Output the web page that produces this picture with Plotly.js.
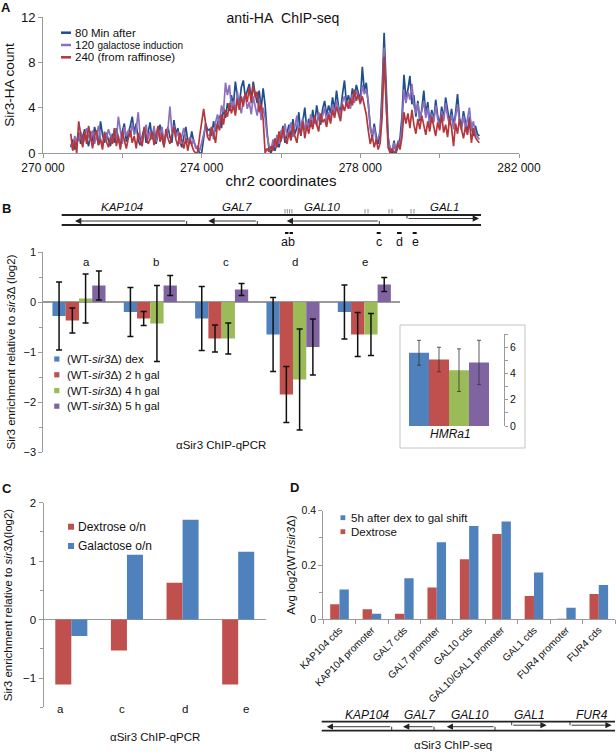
<!DOCTYPE html>
<html><head><meta charset="utf-8">
<script src="https://cdn.plot.ly/plotly-3.0.1.min.js"></script>
<style>html,body{margin:0;padding:0;background:#fff}#chart{width:616px;height:754px}</style>
</head><body><div id="chart"></div>
<script>
// ---------- Panel A: anti-HA ChIP-seq ----------
const chipStart = 270700;   // first bin (chr2 coordinate)
const chipStep = 50;        // bin spacing
const chipSeriesNames = ['80 Min after', '120 galactose induction', '240 (from raffinose)'];
const chipTickVals = [270000, 274000, 278000, 282000];
const chipTickText = ['270 000', '274 000', '278 000', '282 000'];
const sir3HA80 = [
 0.5,1.2,0.3,1.0,1.8,0.8,1.5,2.1,1.2,0.6, 1.9,1.0,2.3,1.4,0.7,2.8,1.6,0.9,1.8,1.1,
 0.6,1.7,0.9,2.2,1.3,0.5,1.9,2.6,1.0,1.6, 2.4,3.2,1.8,2.6,1.1,0.7,1.5,2.2,0.9,1.7,
 2.7,1.2,2.0,0.8,1.6,2.5,1.3,0.6,1.8,2.3, 1.4,0.9,2.9,1.7,2.2,1.0,0.5,1.6,2.3,1.1,
 0.8,1.9,1.0,0.6,0.3,0.0,0.0,1.6,2.6,2.0, 2.1,1.5,2.8,1.9,2.5,3.3,2.2,4.0,3.1,4.4,
 3.7,5.1,4.2,6.3,5.0,4.3,5.8,6.4,4.9,5.6, 6.1,4.7,6.3,5.2,4.4,5.5,3.9,5.7,4.2,1.8,
 0.3,0.0,0.7,0.2,1.1,0.5,1.6,2.4,0.9,1.8, 2.5,1.2,3.0,1.7,2.2,3.6,1.5,2.8,4.0,2.1,
 3.0,2.3,3.8,2.6,4.2,3.1,2.5,3.9,4.6,3.3, 4.2,3.5,4.9,3.8,5.5,4.1,3.6,5.2,6.4,4.4,
 5.1,4.3,5.7,4.9,6.0,5.3,4.6,7.6,5.5,6.2, 4.0,2.4,1.3,2.6,1.5,0.8,2.0,5.6,10.6,5.0,
 1.5,0.2,0.0,1.1,0.0,0.6,1.3,3.2,6.9,4.8, 5.6,6.8,4.3,5.1,3.2,4.6,2.8,3.9,5.5,3.4,
 4.5,2.6,3.8,2.9,4.7,3.3,2.5,4.1,3.0,4.9, 3.6,2.7,3.9,2.4,3.5,5.2,3.1,2.3,3.7,2.6,
 1.8,3.2,2.2,1.5,2.4,1.7,1.5];
const sir3HA120 = [
 0.8,0.4,1.5,0.9,1.2,1.9,0.7,1.3,2.2,1.4, 1.1,2.0,0.8,1.6,2.4,1.2,0.6,1.9,1.3,2.1,
 1.5,0.9,2.0,1.2,3.2,1.8,0.8,2.3,1.5,2.0, 1.4,2.6,1.6,2.1,3.6,1.5,0.9,1.8,2.5,1.2,
 1.9,1.3,2.4,1.0,2.0,1.5,2.3,0.9,1.6,2.1, 4.1,1.8,2.4,1.4,1.9,0.8,1.5,2.2,1.3,0.9,
 1.4,0.7,1.2,0.4,0.6,0.2,0.9,1.8,2.4,1.5, 1.6,2.3,1.2,2.7,3.4,2.5,4.2,3.6,6.2,5.1,
 6.0,4.0,4.6,3.7,5.4,4.2,3.5,4.8,5.2,3.9, 4.5,3.4,5.0,4.1,3.3,4.8,2.9,4.0,3.1,1.5,
 0.6,0.3,1.2,0.5,1.6,0.8,2.0,1.3,2.6,1.5, 1.9,2.7,1.4,2.3,3.3,1.8,2.5,3.1,2.0,2.8,
 2.2,3.4,2.6,3.0,2.4,3.6,2.9,3.3,4.0,2.7, 3.6,3.0,4.3,3.4,4.6,3.8,3.2,4.5,5.0,4.1,
 4.6,3.9,5.2,4.4,5.5,5.0,4.3,6.0,5.2,5.6, 4.6,2.1,1.6,2.3,1.1,1.3,1.8,4.4,9.3,4.4,
 1.1,0.5,0.2,0.9,0.1,1.1,0.6,2.4,5.6,4.4, 5.4,4.7,6.1,4.2,3.5,4.4,3.0,3.7,4.6,3.1,
 4.0,2.4,3.5,2.7,4.2,3.0,2.2,3.7,2.8,4.4, 3.2,2.5,3.4,2.1,3.1,4.3,2.7,2.0,3.3,2.2,
 3.0,4.0,2.1,2.8,1.7,1.4,1.2];
const sir3HA240 = [
 1.7,0.2,1.1,0.0,2.8,1.4,0.5,1.9,0.8,2.4, 1.3,0.4,1.6,2.0,0.7,1.2,0.3,1.8,1.0,0.5,
 1.4,0.8,2.2,0.6,1.5,0.3,1.9,1.1,0.4,1.3, 2.0,0.9,1.5,0.4,1.8,1.1,0.6,2.3,1.4,0.8,
 1.2,1.9,0.7,1.5,2.4,1.0,1.7,0.5,2.1,1.3, 0.8,1.6,2.3,1.2,0.6,1.8,1.1,0.4,1.3,0.2,
 1.2,0.6,0.2,0.0,0.1,1.5,2.8,3.9,2.6,1.4, 1.1,2.3,1.7,0.9,2.6,2.0,3.4,2.5,3.8,3.2,
 4.4,3.5,4.2,3.3,4.8,3.8,5.0,4.1,5.3,4.5, 5.8,4.4,6.0,4.9,5.4,3.6,4.3,3.0,0.0,0.4,
 0.1,0.6,0.2,1.3,0.5,1.9,1.0,2.2,1.4,0.8, 1.8,1.1,2.5,1.5,0.9,2.2,1.6,2.8,1.3,2.4,
 1.7,2.9,2.1,3.3,2.5,1.9,3.5,2.7,3.0,2.3, 3.4,2.6,3.8,3.1,4.1,3.3,2.8,4.3,3.7,4.5,
 3.9,4.8,4.2,5.6,4.6,5.2,4.4,5.0,4.2,3.4, 2.0,0.8,1.5,0.5,1.2,0.3,0.9,3.2,8.5,3.8,
 0.5,0.0,0.4,0.0,0.2,0.9,0.3,1.4,3.6,2.6, 3.5,2.2,3.8,2.5,1.7,3.0,2.1,3.3,2.4,1.6,
 2.8,1.9,3.2,2.3,1.5,2.7,2.0,3.4,1.8,2.5, 1.4,3.1,2.2,0.6,2.6,1.7,3.0,2.1,1.3,2.3,
 1.6,2.9,0.9,2.2,1.4,1.1,0.9];

// ---------- Panel B: ChIP-qPCR ----------
const qpcrSites = ['a', 'b', 'c', 'd', 'e'];
const seriesNamesB = ['(WT-<i>sir3</i>Δ) dex', '(WT-<i>sir3</i>Δ) 2 h gal', '(WT-<i>sir3</i>Δ) 4 h gal', '(WT-<i>sir3</i>Δ) 5 h gal'];
const dexB    = [-0.28, -0.20, -0.33, -0.65, -0.20];
const gal2hB  = [-0.37, -0.33, -0.73, -1.85, -0.65];
const gal4hB  = [ 0.07, -0.43, -0.73, -1.55, -0.65];
const gal5hB  = [ 0.33,  0.33,  0.25, -0.90,  0.35];
const dexErrB   = [0.68, 0.49, 0.64, 0.74, 0.54];
const gal2hErrB = [0.25, 0.14, 0.27, 0.56, 0.44];
const gal4hErrB = [0.49, 0.76, 0.31, 1.01, 0.42];
const gal5hErrB = [0.29, 0.20, 0.12, 0.56, 0.14];
// inset HMRa1
const hmrConditions = ['dex', '2 h gal', '4 h gal', '5 h gal'];
const hmrValues = [5.57, 5.06, 4.25, 4.83];
const hmrErr = [0.95, 0.93, 1.62, 1.69];
const geneLabelsB = ['KAP104', 'GAL7', 'GAL10', 'GAL1'];
const primerLabelsB = ['ab', 'c', 'd', 'e'];

// ---------- Panel C ----------
const sitesC = ['a', 'c', 'd', 'e'];
const seriesNamesC = ['Dextrose o/n', 'Galactose o/n'];
const dextroseC  = [-1.11, -0.53, 0.63, -1.11];
const galactoseC = [-0.28,  1.11, 1.71,  1.16];

// ---------- Panel D ----------
const regionsD = ['KAP104 cds', 'KAP104 promoter', 'GAL7 cds', 'GAL7 promoter', 'GAL10 cds',
                  'GAL10/GAL1 promoter', 'GAL1 cds', 'FUR4 promoter', 'FUR4 cds'];
const seriesNamesD = ['5h after dex to gal shift', 'Dextrose'];
const shift5hD   = [0.110, 0.020, 0.151, 0.284, 0.344, 0.360, 0.172, 0.043, 0.126];
const dextroseD  = [0.055, 0.037, 0.020, 0.117, 0.221, 0.314, 0.086, 0.002, 0.093];
const geneLabelsD = ['KAP104', 'GAL7', 'GAL10', 'GAL1', 'FUR4'];

// ---------- drawing ----------
const W = 616, H = 754;
const fx = p => p / W;
const fy = p => 1 - p / H;
const FONT = '"Liberation Sans", Arial, Helvetica, sans-serif';
const TXT = '#111';
const axisGrey = '#9a9a9a';
const cBlue = '#4f81bd', cRed = '#c0504d', cGreen = '#9bbb59', cPurple = '#8064a2';
const aBlue = '#1f4e8d', aPurple = '#8d70bc', aRed = '#b3373b';

const chipX = sir3HA80.map((_, i) => chipStart + i * chipStep);
const traces = [];
[[sir3HA80, aBlue], [sir3HA120, aPurple], [sir3HA240, aRed]].forEach(([ys, c], k) => {
  traces.push({type: 'scatter', mode: 'lines', x: chipX, y: ys, name: chipSeriesNames[k],
    line: {color: c, width: 1.7}, xaxis: 'x', yaxis: 'y', showlegend: false});
});

const bSeries = [dexB, gal2hB, gal4hB, gal5hB];
const bErr = [dexErrB, gal2hErrB, gal4hErrB, gal5hErrB];
const bColors = [cBlue, cRed, cGreen, cPurple];
const bw = 0.186;
bSeries.forEach((vals, k) => {
  traces.push({type: 'bar', x: qpcrSites, y: vals, name: seriesNamesB[k],
    marker: {color: bColors[k]}, width: bw, offset: -2 * bw + k * bw,
    error_y: {type: 'data', array: bErr[k], visible: true, color: '#111', thickness: 1.5, width: 3},
    xaxis: 'x2', yaxis: 'y2', showlegend: false});
});
traces.push({type: 'bar', x: hmrConditions, y: hmrValues, name: 'HMRa1',
  marker: {color: bColors}, width: 1,
  error_y: {type: 'data', array: hmrErr, visible: true, color: '#333', thickness: 0.8, width: 2},
  xaxis: 'x3', yaxis: 'y3', showlegend: false});

const cw = 0.288;
traces.push({type: 'bar', x: sitesC, y: dextroseC, name: seriesNamesC[0], marker: {color: cRed},
  width: cw, offset: -cw, xaxis: 'x4', yaxis: 'y4', showlegend: false});
traces.push({type: 'bar', x: sitesC, y: galactoseC, name: seriesNamesC[1], marker: {color: cBlue},
  width: cw, offset: 0, xaxis: 'x4', yaxis: 'y4', showlegend: false});

const dw = 0.287;
traces.push({type: 'bar', x: regionsD, y: dextroseD, name: seriesNamesD[1], marker: {color: cRed},
  width: dw, offset: -dw, xaxis: 'x5', yaxis: 'y5', showlegend: false});
traces.push({type: 'bar', x: regionsD, y: shift5hD, name: seriesNamesD[0], marker: {color: cBlue},
  width: dw, offset: 0, xaxis: 'x5', yaxis: 'y5', showlegend: false});

// helpers for layout decorations
const ann = (x, y, text, opt = {}) => Object.assign({xref: 'paper', yref: 'paper', x: fx(x), y: fy(y), text,
  showarrow: false, xanchor: 'center', yanchor: 'middle', font: {size: 11, color: TXT}}, opt);
const line = (x0, y0, x1, y1, color = '#222', width = 1) => ({type: 'line', xref: 'paper', yref: 'paper',
  x0: fx(x0), y0: fy(y0), x1: fx(x1), y1: fy(y1), line: {color, width}});
const rect = (x0, y0, x1, y1, fill) => ({type: 'rect', xref: 'paper', yref: 'paper',
  x0: fx(x0), y0: fy(y0), x1: fx(x1), y1: fy(y1), fillcolor: fill, line: {width: 0}});
const arrow = (tail, head, y) => ({xref: 'paper', yref: 'paper', x: fx(head), y: fy(y), ax: tail - head, ay: 0,
  axref: 'pixel', ayref: 'pixel', text: '', showarrow: true, arrowhead: 2, arrowsize: 1.4,
  arrowwidth: 0.9, arrowcolor: '#222', standoff: 0, startstandoff: 0});

const annotations = [];
const shapes = [];

// panel letters
[['A', 6, 8], ['B', 6, 209], ['C', 7, 488], ['D', 294, 487]].forEach(([t, x, y]) =>
  annotations.push(ann(x, y, '<b>' + t + '</b>', {font: {size: 13, color: TXT}})));

// Panel A legend
const aCols = [aBlue, aPurple, aRed];
const aLegText = ['80 Min after', '120 <span style="font-size:10px">galactose induction</span>', '240 (from raffinose)'];
[32.7, 45, 57.3].forEach((y, k) => {
  shapes.push(line(61, y, 71, y, aCols[k], 2.5));
  annotations.push(ann(73, y, aLegText[k], {xanchor: 'left', font: {size: 11.5, color: TXT}}));
});

// Panel B gene map
shapes.push(line(61.7, 215, 481, 215, '#222', 1.8));
shapes.push(line(61.7, 225, 481, 225, '#222', 1.8));
const revGenesB = [[186.7, 75], [257.3, 208.3], [379.3, 286.7]];
revGenesB.forEach(([s, e]) => { shapes.push(line(s, 225, s, 221, '#222', 0.9)); annotations.push(arrow(s, e, 221)); });
shapes.push(line(407, 215, 407, 218.5, '#222', 0.9));
annotations.push(arrow(407, 479, 218.5));
[121.7, 236.7, 321.7, 444].forEach((x, k) =>
  annotations.push(ann(x, 207.5, '<i>' + geneLabelsB[k] + '</i>', {font: {size: 11.5, color: TXT}})));
[285, 287.3, 289.6, 291.9, 365, 368, 389, 392, 411, 414].forEach(x => shapes.push(line(x, 209, x, 213.5, '#444', 0.6)));
[[285, 288.5], [289.5, 293], [376.7, 380.7], [397, 401.7], [412.7, 416.7]].forEach(([a, b]) =>
  shapes.push(line(a, 233, b, 233, '#111', 2)));
[288, 378.5, 399.5, 415].forEach((x, k) => annotations.push(ann(x, 241.5, primerLabelsB[k], {font: {size: 12.5, color: TXT}})));

// Panel B site labels above bars
[8, 6, 4, 2, 1].forEach((s, k) => annotations.push({xref: 'x2', yref: 'paper', x: qpcrSites[k], y: fy(262),
  xshift: s, text: qpcrSites[k], showarrow: false, xanchor: 'center', yanchor: 'middle', font: {size: 11.5, color: TXT}}));
// Panel B legend
[359, 374.8, 390.6, 406.2].forEach((y, k) => {
  shapes.push(rect(54.2, y - 2.6, 59.4, y + 2.6, bColors[k]));
  annotations.push(ann(65, y, seriesNamesB[k], {xanchor: 'left', font: {size: 11.5, color: TXT}}));
});
annotations.push(ann(221, 445, 'αSir3 ChIP-qPCR', {font: {size: 11.5, color: TXT}}));
// inset frame + label
shapes.push({type: 'rect', xref: 'paper', yref: 'paper', x0: fx(400), x1: fx(525), y0: fy(448), y1: fy(325),
  line: {color: '#c4c4c4', width: 1}, fillcolor: 'rgba(0,0,0,0)'});
annotations.push(ann(450, 433.5, '<i>HMRa1</i>', {font: {size: 12, color: TXT}}));

// Panel C legend + labels + caption
[[526.7, cRed], [546, cBlue]].forEach(([y, c], k) => {
  shapes.push(rect(68, y - 3, 74, y + 3, c));
  annotations.push(ann(76, y, seriesNamesC[k], {xanchor: 'left', font: {size: 12, color: TXT}}));
});
[-10.7, -4.6, 2, 8.2].forEach((s, k) => annotations.push({xref: 'x4', yref: 'paper', x: sitesC[k], y: fy(708.5),
  xshift: s, text: sitesC[k], showarrow: false, xanchor: 'center', yanchor: 'middle', font: {size: 11.5, color: TXT}}));
annotations.push(ann(155, 737, 'αSir3 ChIP-qPCR', {font: {size: 11.5, color: TXT}}));

// Panel D legend
[[517.7, cBlue, 0], [531.7, cRed, 1]].forEach(([y, c, k]) => {
  shapes.push(rect(340.5, y - 2.4, 345.3, y + 2.4, c));
  annotations.push(ann(349, y, seriesNamesD[k], {xanchor: 'left', font: {size: 11.5, color: TXT}}));
});
// Panel D gene map
shapes.push(line(321.7, 721.7, 615, 721.7, '#222', 1.8));
shapes.push(line(321.7, 730.7, 615, 730.7, '#222', 1.8));
[[391.7, 326.7], [434, 403], [495, 446.7]].forEach(([s, e]) => { shapes.push(line(s, 730.7, s, 726.7, '#222', 0.9)); annotations.push(arrow(s, e, 726.7)); });
[[511.7, 546.7], [570, 611.7]].forEach(([s, e]) => { shapes.push(line(s, 721.7, s, 725.2, '#222', 0.9)); annotations.push(arrow(s, e, 725.2)); });
[367, 420, 470, 529, 591.7].forEach((x, k) =>
  annotations.push(ann(x, 714.5, '<i>' + geneLabelsD[k] + '</i>', {font: {size: 12, color: TXT}})));
annotations.push(ann(453, 745, 'αSir3 ChIP-seq', {font: {size: 11.5, color: TXT}}));

const baseAxis = {showgrid: false, zeroline: false, showline: true, linecolor: axisGrey, linewidth: 1,
  ticks: 'outside', tickcolor: axisGrey, ticklen: 4, tickfont: {size: 11, color: TXT}};

const layout = {
  width: W, height: H, margin: {l: 0, r: 0, t: 0, b: 0},
  paper_bgcolor: '#fff', plot_bgcolor: 'rgba(0,0,0,0)',
  font: {family: FONT, size: 11, color: TXT}, showlegend: false, barmode: 'group', hovermode: false,
  title: {text: 'anti-HA\u00a0\u00a0ChIP-seq', font: {size: 14, color: TXT}, xref: 'paper', yref: 'paper',
    x: fx(283), y: fy(18), xanchor: 'center', yanchor: 'middle'},
  xaxis: Object.assign({}, baseAxis, {domain: [fx(43), fx(519)], range: [270000, 282000], anchor: 'y',
    tickmode: 'array', tickvals: chipTickVals, ticktext: chipTickText, tickfont: {size: 12, color: TXT},
    minor: {tickmode: 'linear', tick0: 270000, dtick: 2000, ticks: 'outside', ticklen: 4, tickcolor: axisGrey},
    title: {text: 'chr2 coordinates', font: {size: 15, color: TXT}, standoff: 1}}),
  yaxis: Object.assign({}, baseAxis, {domain: [fy(153), fy(17)], range: [0, 12], anchor: 'x',
    tickmode: 'array', tickvals: [0, 4, 8, 12], tickfont: {size: 13, color: TXT},
    title: {text: 'Sir3-HA count', font: {size: 13.5, color: TXT}, standoff: 3}}),
  xaxis2: {domain: [fx(43.3), fx(400)], range: [-0.5, 4.5], type: 'category', anchor: 'y2',
    showline: false, showticklabels: false, ticks: '', showgrid: false, zeroline: false},
  yaxis2: Object.assign({}, baseAxis, {domain: [fy(452), fy(252)], range: [-3, 1], anchor: 'x2',
    tickmode: 'array', tickvals: [-3, -2, -1, 0, 1], zeroline: true, zerolinecolor: axisGrey, zerolinewidth: 1.5,
    minor: {tickmode: 'linear', tick0: 0, dtick: 0.5, ticks: 'outside', ticklen: 3, tickcolor: axisGrey},
    title: {text: 'Sir3 enrichment relative to <i>sir3</i>Δ (log2)', font: {size: 11.5, color: TXT}, standoff: 5}}),
  xaxis3: {domain: [fx(409), fx(489)], range: [-0.5, 3.5], type: 'category', anchor: 'y3', visible: false},
  yaxis3: Object.assign({}, baseAxis, {domain: [fy(426), fy(334)], range: [0, 7], anchor: 'free',
    position: fx(504), side: 'right', tickmode: 'array', tickvals: [0, 2, 4, 6], ticklen: 3,
    tickfont: {size: 10.5, color: TXT},
    minor: {tickmode: 'linear', tick0: 0, dtick: 1, ticks: 'outside', ticklen: 3, tickcolor: axisGrey}}),
  xaxis4: {domain: [fx(43.5), fx(266)], range: [-0.5, 3.5], type: 'category', anchor: 'y4',
    showline: false, showticklabels: false, ticks: '', showgrid: false, zeroline: false},
  yaxis4: Object.assign({}, baseAxis, {domain: [fy(707.3), fy(502.7)], range: [-1.5, 2], anchor: 'x4',
    tickmode: 'array', tickvals: [-1, 0, 1, 2], zeroline: true, zerolinecolor: axisGrey, zerolinewidth: 1.5,
    tickfont: {size: 11.5, color: TXT},
    minor: {tickmode: 'linear', tick0: 0, dtick: 0.5, ticks: 'outside', ticklen: 3, tickcolor: axisGrey},
    title: {text: 'Sir3 enrichment relative to <i>sir3</i>Δ(log2)', font: {size: 11.5, color: TXT}, standoff: 8}}),
  xaxis5: Object.assign({}, baseAxis, {domain: [fx(323.3), fx(615)], range: [-0.5, 8.5], type: 'category',
    anchor: 'y5', tickangle: -45, tickson: 'boundaries', tickfont: {size: 10, color: TXT}}),
  yaxis5: Object.assign({}, baseAxis, {domain: [fy(619.3), fy(510.7)], range: [0, 0.4], anchor: 'x5',
    tickmode: 'array', tickvals: [0, 0.2, 0.4], ticktext: ['0', '0.2', '0.4'], tickfont: {size: 10.5, color: TXT},
    minor: {tickmode: 'linear', tick0: 0, dtick: 0.1, ticks: 'outside', ticklen: 3, tickcolor: axisGrey},
    title: {text: 'Avg log2(WT/<i>sir3</i>Δ)', font: {size: 11.5, color: TXT}, standoff: 3}}),
  annotations, shapes
};

Plotly.newPlot('chart', traces, layout, {staticPlot: true, displayModeBar: false});
</script></body></html>
